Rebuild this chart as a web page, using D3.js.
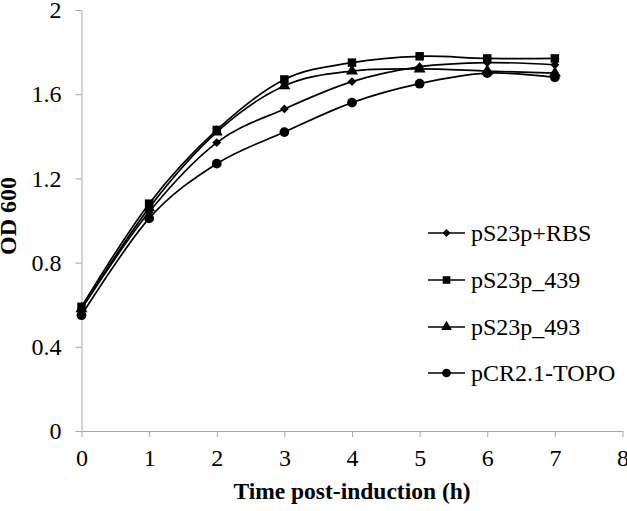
<!DOCTYPE html>
<html lang="en">
<head>
    <meta charset="UTF-8">
    <title>OD 600 growth curves</title>
    <script src="https://d3js.org/d3.v7.min.js"></script>
    <style>
        body {
            margin: 0;
            background: #fff;
        }
        text {
            font-family: "Liberation Serif", "Times New Roman", serif;
            fill: #000;
        }
        .axis path, .axis line {
            stroke: #a6a6a6;
            stroke-width: 1px;
        }
        .axis text {
            font-size: 24px;
        }
    </style>
</head>
<body>
    <div id="chart"></div>

    <script>
        const width = 627;
        const height = 511;

        // time points (h)
        const times = [0, 1, 2, 3, 4, 5, 6, 7];

        // OD600 per construct
        const rbs = [0.58, 1.04, 1.37, 1.53, 1.66, 1.73, 1.75, 1.74];
        const p439 = [0.59, 1.08, 1.43, 1.67, 1.75, 1.78, 1.77, 1.77];
        const p493 = [0.58, 1.06, 1.42, 1.64, 1.71, 1.72, 1.71, 1.70];
        const topo = [0.55, 1.01, 1.27, 1.42, 1.56, 1.65, 1.70, 1.68];

        const seriesNames = ["pS23p+RBS", "pS23p_439", "pS23p_493", "pCR2.1-TOPO"];
        const seriesValues = [rbs, p439, p493, topo];
        const seriesSymbols = [d3.symbolDiamond2, d3.symbolSquare, d3.symbolTriangle, d3.symbolCircle];
        const symbolSizes = [50, 72, 62, 75];

        const xTicks = [0, 1, 2, 3, 4, 5, 6, 7, 8];
        const yTicks = [0, 0.4, 0.8, 1.2, 1.6, 2];

        const svg = d3.select("#chart")
            .append("svg")
            .attr("width", width)
            .attr("height", height);

        const x = d3.scaleLinear().domain([0, 8]).range([81.5, 622.5]);
        const y = d3.scaleLinear().domain([0, 2]).range([431, 10]);

        // axes
        svg.append("g")
            .attr("class", "axis")
            .attr("transform", "translate(0,431)")
            .call(d3.axisBottom(x).tickValues(xTicks).tickSize(6).tickSizeOuter(0).tickPadding(12).tickFormat(d3.format("d")));

        svg.append("g")
            .attr("class", "axis")
            .attr("transform", "translate(81.5,0)")
            .call(d3.axisLeft(y).tickValues(yTicks).tickSize(6).tickSizeOuter(0).tickPadding(14).tickFormat(d => d === 0 || d === 2 ? d : d.toFixed(1)));

        // axis titles
        svg.append("text")
            .attr("x", 352)
            .attr("y", 499)
            .attr("text-anchor", "middle")
            .style("font-size", "23.5px")
            .style("font-weight", "bold")
            .text("Time post-induction (h)");

        svg.append("text")
            .attr("transform", "translate(16,216) rotate(-90)")
            .attr("text-anchor", "middle")
            .style("font-size", "24px")
            .style("font-weight", "bold")
            .text("OD 600");

        const line = d3.line()
            .x((d, i) => x(times[i]))
            .y(d => y(d))
            .curve(d3.curveCatmullRom.alpha(0));

        // lines first, markers on top
        seriesValues.forEach(vals => {
            svg.append("path")
                .datum(vals)
                .attr("d", line)
                .attr("fill", "none")
                .attr("stroke", "#000")
                .attr("stroke-width", 1.7);
        });

        seriesValues.forEach((vals, s) => {
            svg.append("g")
                .selectAll("path")
                .data(vals)
                .join("path")
                .attr("transform", (d, i) => `translate(${x(times[i])},${y(d)})`)
                .attr("d", d3.symbol().type(seriesSymbols[s]).size(symbolSizes[s]))
                .attr("fill", "#000");
        });

        // legend
        const legendY = [233, 280, 327, 373];
        const legend = svg.append("g");
        seriesNames.forEach((name, s) => {
            const g = legend.append("g").attr("transform", `translate(0,${legendY[s]})`);
            g.append("line")
                .attr("x1", 428).attr("x2", 465)
                .attr("stroke", "#000").attr("stroke-width", 1.7);
            g.append("path")
                .attr("transform", "translate(446.5,0)")
                .attr("d", d3.symbol().type(seriesSymbols[s]).size(symbolSizes[s] * 0.8))
                .attr("fill", "#000");
            g.append("text")
                .attr("x", 471)
                .attr("y", 8)
                .style("font-size", "24px")
                .text(name);
        });
    </script>
</body>
</html>
